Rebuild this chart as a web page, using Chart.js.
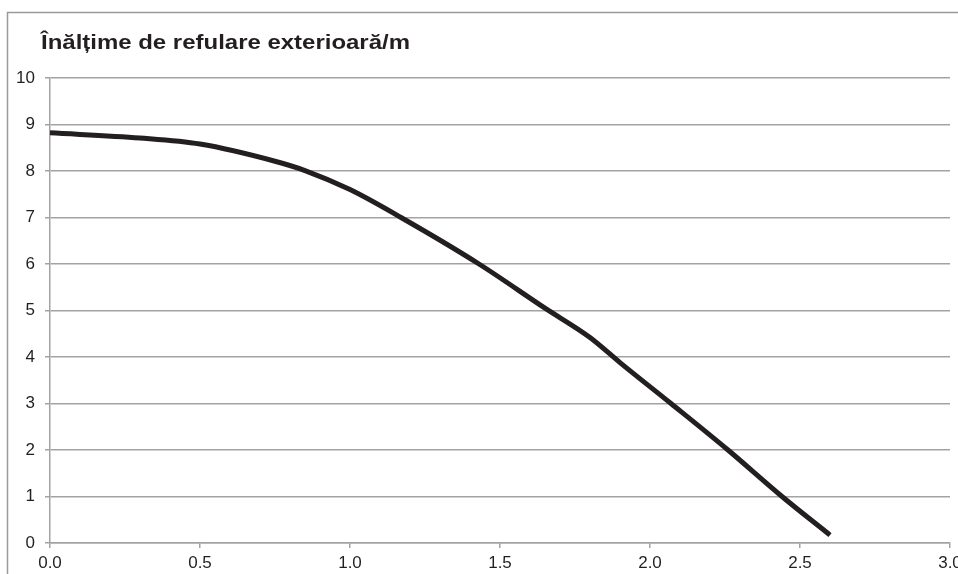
<!DOCTYPE html>
<html>
<head>
<meta charset="utf-8">
<script src="https://cdn.jsdelivr.net/npm/chart.js@4.4.1/dist/chart.umd.min.js"></script>
<style>
  html, body { margin: 0; padding: 0; background: #ffffff; }
  #wrap { position: relative; width: 958px; height: 574px; }
</style>
</head>
<body>
<div id="wrap"><canvas id="c" width="958" height="574"></canvas></div>
<script>
const chartTitle = "Înălțime de refulare exterioară/m";
const flowRates = [0, 0.3, 0.5, 0.75, 0.85, 1.0, 1.17, 1.43, 1.65, 1.8, 1.9, 2.07, 2.26, 2.44, 2.6];
const heads     = [8.82, 8.71, 8.58, 8.21, 8.01, 7.6, 7.0, 6.0, 5.05, 4.42, 3.88, 3.0, 2.0, 1.0, 0.17];
const xTicks = [0, 0.5, 1.0, 1.5, 2.0, 2.5, 3.0];
const yTicks = [0, 1, 2, 3, 4, 5, 6, 7, 8, 9, 10];

const FONT = "'Liberation Sans', Arial, sans-serif";
const GRID = '#a3a3a3';
const INK = '#231f20';

const framePlugin = {
  id: 'frameAndTitle',
  beforeDraw(chart) {
    const ctx = chart.ctx;
    ctx.save();
    ctx.strokeStyle = '#9a9a9a';
    ctx.lineWidth = 1.5;
    ctx.beginPath();
    ctx.moveTo(7.5, chart.height);
    ctx.lineTo(7.5, 12.5);
    ctx.lineTo(chart.width, 12.5);
    ctx.stroke();
    ctx.fillStyle = INK;
    ctx.font = "bold 21px " + FONT;
    ctx.textAlign = 'left';
    ctx.textBaseline = 'alphabetic';
    const w = ctx.measureText(chartTitle).width;
    const sx = 369 / w;
    ctx.translate(41, 48.5);
    ctx.scale(sx, 1);
    ctx.fillText(chartTitle, 0, 0);
    ctx.restore();
  }
};

new Chart(document.getElementById('c'), {
  type: 'line',
  data: {
    datasets: [{
      data: flowRates.map((x, i) => ({ x: x, y: heads[i] })),
      borderColor: INK,
      borderWidth: 5,
      pointRadius: 0,
      fill: false,
      cubicInterpolationMode: 'monotone'
    }]
  },
  options: {
    responsive: false,
    animation: false,
    devicePixelRatio: 1,
    layout: { padding: { top: 78, right: 8, left: 0, bottom: 0 } },
    plugins: { legend: { display: false }, tooltip: { enabled: false }, title: { display: false } },
    scales: {
      x: {
        type: 'linear',
        min: 0, max: 3,
        afterBuildTicks: s => { s.ticks = xTicks.map(v => ({ value: v })); },
        afterFit: s => { s.height = 31; s.paddingLeft = 0; s.paddingRight = 0; },
        ticks: {
          color: INK,
          font: { size: 17, family: FONT },
          padding: 5,
          maxRotation: 0,
          autoSkip: false,
          callback: v => Number(v).toFixed(1)
        },
        grid: { drawOnChartArea: false, drawTicks: true, tickLength: 5, color: GRID, lineWidth: 1.5 },
        border: { display: true, color: GRID, width: 1.5 }
      },
      y: {
        min: 0, max: 10,
        afterBuildTicks: s => { s.ticks = yTicks.map(v => ({ value: v })); },
        afterFit: s => { s.width = 50; },
        ticks: {
          color: INK,
          font: { size: 17, family: FONT },
          padding: 10,
          autoSkip: false
        },
        grid: { drawTicks: true, tickLength: 5, color: GRID, lineWidth: 1.5 },
        border: { display: true, color: GRID, width: 1.5 }
      }
    }
  },
  plugins: [framePlugin]
});
</script>
</body>
</html>
